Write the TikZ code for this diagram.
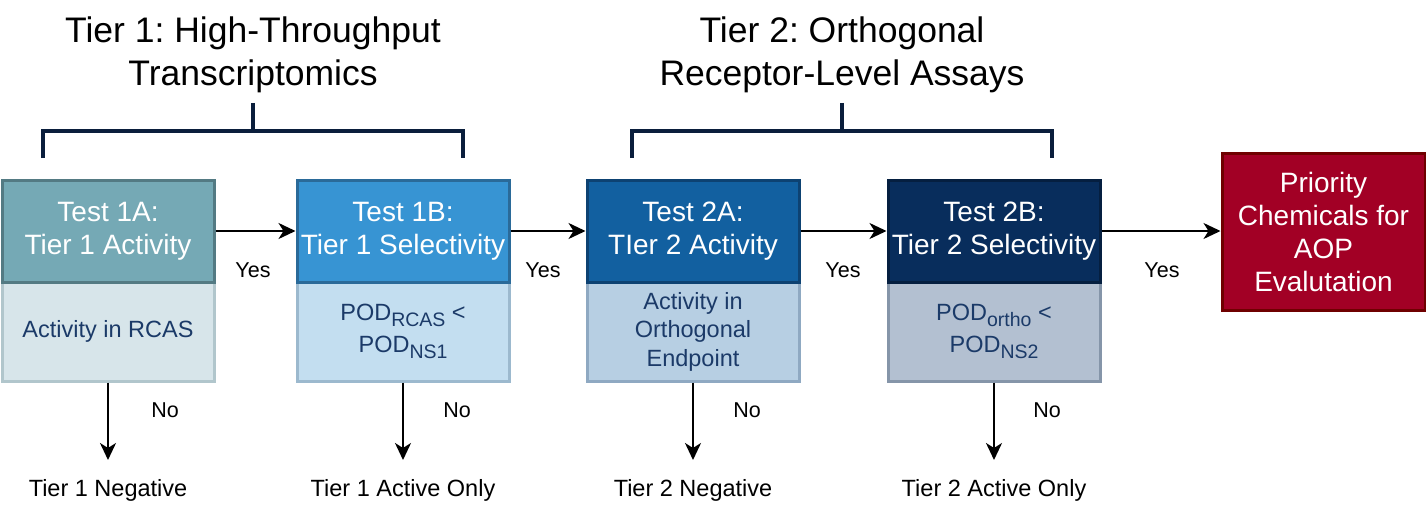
\documentclass[tikz,border=0pt]{standalone}
\usepackage{fontspec}
\setmainfont{Liberation Sans}
\usetikzlibrary{arrows.meta}
\definecolor{hA}{HTML}{75A9B5}\definecolor{hAb}{HTML}{537A83}
\definecolor{lA}{HTML}{D7E5EA}\definecolor{lAb}{HTML}{B1C6CC}
\definecolor{hB}{HTML}{3794D3}\definecolor{hBb}{HTML}{2A6A99}
\definecolor{lB}{HTML}{C3DEF0}\definecolor{lBb}{HTML}{9CB9CE}
\definecolor{hC}{HTML}{1260A0}\definecolor{hCb}{HTML}{0D4272}
\definecolor{lC}{HTML}{B7CFE3}\definecolor{lCb}{HTML}{8FA9C2}
\definecolor{hD}{HTML}{082D5C}\definecolor{hDb}{HTML}{051F40}
\definecolor{lD}{HTML}{B3C0D1}\definecolor{lDb}{HTML}{8595A9}
\definecolor{redf}{HTML}{A20025}\definecolor{redb}{HTML}{6F0000}
\definecolor{lowtext}{HTML}{1B3A68}
\definecolor{brk}{HTML}{0A1E3C}
\newcommand{\mysub}[1]{\raisebox{-6pt}{\fontsize{19.5}{20}\selectfont #1}}
\tikzset{
  hdr/.style={rectangle, line width=3pt, minimum width=212pt, minimum height=102pt, inner sep=0pt,
    align=center, text=white, font=\fontsize{28}{33}\selectfont},
  low/.style={rectangle, line width=3pt, minimum width=212pt, minimum height=99pt, inner sep=0pt,
    align=center, text=lowtext, font=\fontsize{23.5}{28.5}\selectfont},
  lbl/.style={font=\fontsize{21.5}{26}\selectfont, inner sep=0pt},
  outlbl/.style={font=\fontsize{23.5}{28}\selectfont, inner sep=0pt},
  ttl/.style={font=\fontsize{35.5}{43}\selectfont, align=center, inner sep=0pt},
  arr/.style={line width=2pt, -{Stealth[length=17pt,width=16pt,inset=5pt]}},
  bracket/.style={line width=4pt, color=brk}
}
\begin{document}
\frenchspacing
\begin{tikzpicture}[x=1pt,y=-1pt]
\useasboundingbox (0,0) rectangle (1426,524);
% lower boxes
\node[low, fill=lA, draw=lAb] (l1a) at (108,331.5) {Activity in RCAS};
\node[low, fill=lB, draw=lBb] (l1b) at (403,331.5) {\raisebox{3pt}{POD\mysub{RCAS} <}\\POD\mysub{NS1}};
\node[low, fill=lC, draw=lCb] (l2a) at (693,331.5) {Activity in\\Orthogonal\\Endpoint};
\node[low, fill=lD, draw=lDb] (l2b) at (994,331.5) {\raisebox{3pt}{POD\mysub{ortho} <}\\POD\mysub{NS2}};
% headers
\node[hdr, fill=hA, draw=hAb] (h1a) at (108,231) {\raisebox{-2pt}{Test 1A:}\\\raisebox{-2pt}{Tier 1 Activity}};
\node[hdr, fill=hB, draw=hBb] (h1b) at (403,231) {\raisebox{-2pt}{Test 1B:}\\\raisebox{-2pt}{Tier 1 Selectivity}};
\node[hdr, fill=hC, draw=hCb] (h2a) at (693,231) {\raisebox{-2pt}{Test 2A:}\\\raisebox{-2pt}{TIer 2 Activity}};
\node[hdr, fill=hD, draw=hDb] (h2b) at (994,231) {\raisebox{-2pt}{Test 2B:}\\\raisebox{-2pt}{Tier 2 Selectivity}};
\node[hdr, fill=redf, draw=redb, minimum width=203pt, minimum height=157pt] (pri) at (1323.5,231.5)
  {Priority\\Chemicals for\\AOP\\Evalutation};
% horizontal arrows
\draw[arr] (h1a.east) -- (h1b.west);
\draw[arr] (h1b.east) -- (h2a.west);
\draw[arr] (h2a.east) -- (h2b.west);
\draw[arr] (h2b.east) -- (pri.west |- h2b.east);
\node[lbl] (y1) at (253,270) {Yes};
\node[lbl] (y2) at (543,270) {Yes};
\node[lbl] (y3) at (843,270) {Yes};
\node[lbl] (y4) at (1162,270) {Yes};
% outcomes
\node[outlbl] (o1) at (108,490) {Tier 1 Negative};
\node[outlbl] (o2) at (403,490) {Tier 1 Active Only};
\node[outlbl] (o3) at (693,490) {Tier 2 Negative};
\node[outlbl] (o4) at (994,490) {Tier 2 Active Only};
\coordinate (e1) at (108,460);
\coordinate (e2) at (403,460);
\coordinate (e3) at (693,460);
\coordinate (e4) at (994,460);
\draw[arr] (l1a.south) -- (e1);
\draw[arr] (l1b.south) -- (e2);
\draw[arr] (l2a.south) -- (e3);
\draw[arr] (l2b.south) -- (e4);
\node[lbl] (n1) at (165,410) {No};
\node[lbl] (n2) at (457,410) {No};
\node[lbl] (n3) at (747,410) {No};
\node[lbl] (n4) at (1047,410) {No};
% titles
\node[ttl] (t1) at (253,54.5) {Tier 1: High-Throughput\\Transcriptomics};
\node[ttl] (t2) at (842,54.5) {Tier 2: Orthogonal\\Receptor-Level Assays};
% brackets
\coordinate (b1l) at (43,158); \coordinate (b1r) at (463,158); \coordinate (b1s) at (253,103);
\draw[bracket] (b1l) |- (b1r |- 0,131) -- (b1r);
\draw[bracket] (b1s) -- (b1s |- 0,131);
\coordinate (b2l) at (632,158); \coordinate (b2r) at (1052,158); \coordinate (b2s) at (842,103);
\draw[bracket] (b2l) |- (b2r |- 0,131) -- (b2r);
\draw[bracket] (b2s) -- (b2s |- 0,131);
\end{tikzpicture}
\end{document}
